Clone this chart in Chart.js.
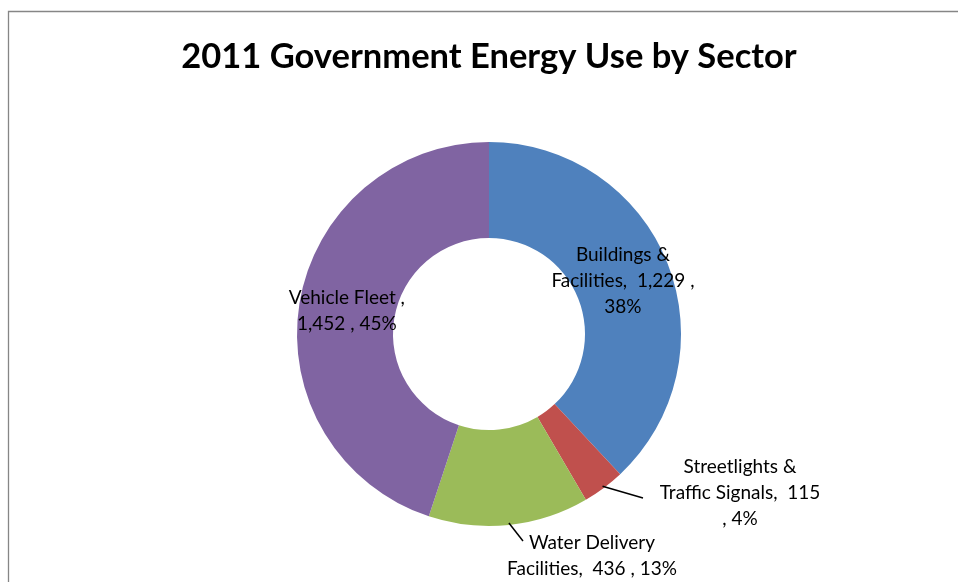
<!DOCTYPE html>
<html>
<head>
<meta charset="utf-8">
<script src="https://cdn.jsdelivr.net/npm/chart.js@4"></script>
<style>
  html, body { margin: 0; padding: 0; background: #fff; }
  #wrap { width: 958px; height: 582px; position: relative; }
</style>
</head>
<body>
<div id="wrap"><canvas id="pie" width="958" height="582"></canvas></div>
<script>
// Données
const titleText = '2011 Government Energy Use by Sector';
const sectors = ['Buildings & Facilities', 'Streetlights & Traffic Signals', 'Water Delivery Facilities', 'Vehicle Fleet'];
const energyUse = [1229, 115, 436, 1452];
const colors = ['#4F81BD', '#C0504D', '#9BBB59', '#8064A2'];

// Texte des étiquettes (comme dans Excel, sur plusieurs lignes)
const labelLines = [
    ['Buildings &', 'Facilities,  1,229 ,', '38%'],
    ['Streetlights &', 'Traffic Signals,  115', ', 4%'],
    ['Water Delivery', 'Facilities,  436 , 13%'],
    ['Vehicle Fleet ,', '1,452 , 45%']
];

const FONT = 'Lato, "Open Sans", sans-serif';

// Place des étiquettes : dans l'anneau, ou à l'extérieur avec un trait
const labelPlace = [
    { inside: true },
    { inside: false, dx: 251, dy: 159, lineEnd: [154, 164] },
    { inside: false, dx: 103, dy: 222, lineEnd: [34, 207] },
    { inside: true }
];

const framePlugin = {
    id: 'frame',
    beforeDraw(chart) {
        const ctx = chart.ctx;
        ctx.save();
        ctx.fillStyle = '#fff';
        ctx.fillRect(0, 0, chart.width, chart.height);
        ctx.strokeStyle = '#868686';
        ctx.lineWidth = 1.3;
        ctx.beginPath();
        ctx.moveTo(8.5, chart.height + 5);
        ctx.lineTo(8.5, 11.5);
        ctx.lineTo(chart.width + 5, 11.5);
        ctx.stroke();
        // titre
        ctx.fillStyle = '#000';
        ctx.font = 'bold 34.5px ' + FONT;
        ctx.textAlign = 'center';
        ctx.textBaseline = 'middle';
        ctx.fillText(titleText, 489, 57);
        ctx.restore();
    }
};

const labelPlugin = {
    id: 'sliceLabels',
    afterDatasetsDraw(chart) {
        const ctx = chart.ctx;
        const meta = chart.getDatasetMeta(0);
        ctx.save();
        ctx.font = '19px ' + FONT;
        ctx.fillStyle = '#000';
        ctx.textAlign = 'center';
        ctx.textBaseline = 'middle';
        meta.data.forEach((arc, i) => {
            const p = arc.getProps(['x', 'y', 'startAngle', 'endAngle', 'innerRadius', 'outerRadius'], true);
            const mid = (p.startAngle + p.endAngle) / 2;
            const place = labelPlace[i];
            const lines = labelLines[i];
            let cx, cy;
            if (place.inside) {
                const r = (p.innerRadius + p.outerRadius) / 2;
                cx = p.x + Math.cos(mid) * r;
                cy = p.y + Math.sin(mid) * r;
            } else {
                cx = p.x + place.dx;
                cy = p.y + place.dy;
                ctx.strokeStyle = '#000';
                ctx.lineWidth = 1.5;
                ctx.beginPath();
                ctx.moveTo(p.x + Math.cos(mid) * (p.outerRadius - 2), p.y + Math.sin(mid) * (p.outerRadius - 2));
                ctx.lineTo(p.x + place.lineEnd[0], p.y + place.lineEnd[1]);
                ctx.stroke();
            }
            const lh = 26;
            const top = cy - (lines.length - 1) * lh / 2;
            lines.forEach((t, k) => ctx.fillText(t, cx, top + k * lh));
        });
        ctx.restore();
    }
};

var ctx = document.getElementById('pie').getContext('2d');
var myChart = new Chart(ctx, {
    type: 'doughnut',
    data: {
        labels: sectors,
        datasets: [{
            data: energyUse,
            backgroundColor: colors,
            borderWidth: 0,
            hoverOffset: 0
        }]
    },
    options: {
        responsive: false,
        animation: false,
        cutout: '50%',
        layout: { padding: { top: 142, bottom: 56, left: 297, right: 277 } },
        plugins: {
            legend: { display: false },
            title: { display: false },
            tooltip: { enabled: false }
        }
    },
    plugins: [framePlugin, labelPlugin]
});
</script>
</body>
</html>
